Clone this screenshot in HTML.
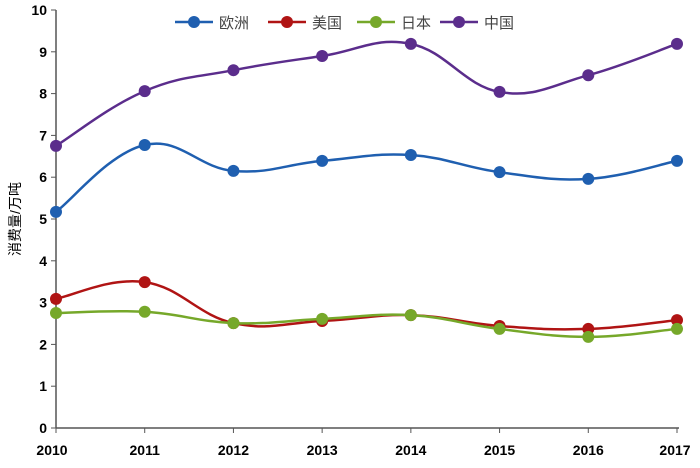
<!DOCTYPE html>
<html><head><meta charset="utf-8"><style>
body{margin:0;background:#fff}
svg text{font-family:"Liberation Sans","Noto Sans CJK SC",sans-serif}
</style></head><body>
<svg width="700" height="463">
<g id="axes"></g><g id="series"></g><g id="legend"></g>
</svg>
<script>
const years=["2010","2011","2012","2013","2014","2015","2016","2017"];
const yTicks=[0,1,2,3,4,5,6,7,8,9,10];
const seriesNames=["欧洲","美国","日本","中国"];
const seriesColors=["#1f5fb0","#b01414","#76a82a","#5b2d8c"];
const europe=[5.17,6.77,6.15,6.39,6.53,6.12,5.96,6.39];
const usa=[3.09,3.49,2.51,2.56,2.70,2.44,2.37,2.58];
const japan=[2.75,2.78,2.51,2.61,2.70,2.37,2.18,2.37];
const china=[6.75,8.06,8.56,8.90,9.19,8.04,8.44,9.19];
const allSeries=[europe,usa,japan,china];
const NS="http://www.w3.org/2000/svg";
const X0=56,X1=677,Y0=428,Y1=10;
const xs=i=>X0+(X1-X0)*i/(years.length-1);
const ys=v=>Y0-(Y0-Y1)*v/10;
function mk(t,a,p){const e=document.createElementNS(NS,t);for(const k in a)e.setAttribute(k,a[k]);p.appendChild(e);return e;}
const ax=document.getElementById('axes');
let yl=mk('line',{x1:X0,y1:Y1,x2:X0,y2:Y0,stroke:'#555','stroke-width':1.5},ax);


let xl=mk('line',{x1:X0,y1:Y0,x2:X1+2,y2:Y0,stroke:'#555','stroke-width':1.5},ax);


yTicks.forEach(v=>{
 mk('line',{x1:X0-5,y1:ys(v),x2:X0,y2:ys(v),stroke:'#555'},ax);
 const t=mk('text',{x:X0-9,y:ys(v)+5,'text-anchor':'end','font-size':14,'font-weight':'bold',fill:'#000'},ax);
 t.textContent=v;
 
 
});
years.forEach((y,i)=>{
 mk('line',{x1:xs(i),y1:Y0,x2:xs(i),y2:Y0+5,stroke:'#555'},ax);
 const t=mk('text',{x:xs(i)-(i==0?4:0)+(i==7?-2:0),y:455,'text-anchor':'middle','font-size':14,'font-weight':'bold',fill:'#000'},ax);
 t.textContent=y;
 
 
});
const yt=mk('text',{x:20,y:219,'text-anchor':'middle','font-size':14,fill:'#000',transform:'rotate(-90 20 219)'},ax);
yt.textContent='消费量/万吨';


const sg=document.getElementById('series');
function path(vals){
 const p=vals.map((v,i)=>[xs(i),ys(v)]);
 let d='M'+p[0][0]+','+p[0][1];
 for(let i=0;i<p.length-1;i++){
  const a=p[Math.max(0,i-1)],b=p[i],c=p[i+1],e=p[Math.min(p.length-1,i+2)];
  const t=0.2;
  d+=` C${b[0]+(c[0]-a[0])*t},${b[1]+(c[1]-a[1])*t} ${c[0]-(e[0]-b[0])*t},${c[1]-(e[1]-b[1])*t} ${c[0]},${c[1]}`;
 }
 return d;
}
allSeries.forEach((vals,s)=>{
 const g=mk('g',{},sg);
 
 
 mk('path',{d:path(vals),fill:'none',stroke:seriesColors[s],'stroke-width':2.5},g);
 vals.forEach((v,i)=>{
  const c=mk('circle',{cx:xs(i),cy:ys(v),r:6,fill:seriesColors[s]},g);
  
  
 });
});
const lg=document.getElementById('legend');
const lx=[175,268,357,440];
seriesNames.forEach((n,s)=>{
 const g=mk('g',{},lg);
 
 
 mk('line',{x1:lx[s],y1:22,x2:lx[s]+38,y2:22,stroke:seriesColors[s],'stroke-width':2.5},g);
 mk('circle',{cx:lx[s]+19,cy:22,r:6,fill:seriesColors[s]},g);
 const t=mk('text',{x:lx[s]+44,y:28,'font-size':15,fill:'#444'},g);
 t.textContent=n;
});
</script>
</body></html>
